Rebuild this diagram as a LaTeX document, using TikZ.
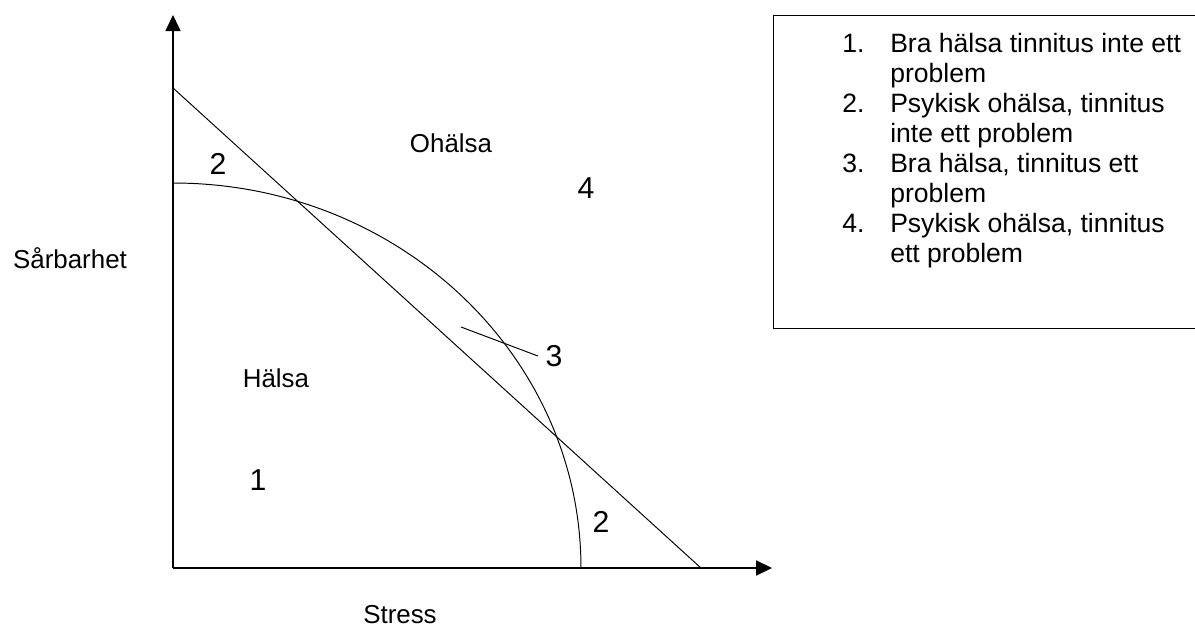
\documentclass[tikz,border=0pt]{standalone}
\usepackage{fontspec}
\setmainfont{Liberation Sans}
\usetikzlibrary{arrows.meta}
\tikzset{
  lbl/.style={font=\fontsize{12}{13.8}\selectfont},
  num/.style={font=\fontsize{14}{16}\selectfont},
  legtxt/.style={font=\fontsize{12.3}{13.9}\selectfont},
}

\begin{document}
\begin{tikzpicture}[>={Triangle[length=7.4pt,width=7pt]},line width=0.45pt]
		\useasboundingbox (-2.817,-0.977) rectangle (16.641,9.249);
		% axes
		\coordinate (O) at (0,0);
		\coordinate (ytip) at (0,9.004);
		\coordinate (xtip) at (9.754,0);
		\draw[->,line width=0.6pt] (O) -- (ytip);
		\draw[->,line width=0.6pt] (O) -- (xtip);
		\node[lbl] (sarb) at (-1.677,5.048) {Sårbarhet};
		\node[lbl] (stress) at (3.696,-0.76) {Stress};

		% line and curve
		\coordinate (ltop) at (0,7.816);
		\coordinate (lbot) at (8.597,0);
		\draw (ltop) -- (lbot);
		\draw (0,6.269) arc (90:0:6.643 and 6.269);

		\node[lbl] (ohalsa) at (4.527,6.920) {Ohälsa};
		\node[lbl] (halsa) at (1.677,3.094) {Hälsa};
		\node[num] (n1) at (1.384,1.433) {1};
		\node[num] (n2a) at (0.733,6.578) {2};
		\node[num] (n2b) at (6.969,0.749) {2};
		\node[num] (n4) at (6.725,6.188) {4};
		\node[num] (n3) at (6.204,3.452) {3};
		\coordinate (c3) at (4.690,3.924);
		\draw (c3) -- (n3.west);

		% legend
		\draw (9.770,9.004) rectangle (16.75,3.908);
		\node[legtxt,anchor=base west,inner sep=0pt] (legend) at (10.893,8.402) {%
			\begin{tabular}[t]{@{}p{22.15pt}@{}l@{}}
				1. & Bra hälsa tinnitus inte ett\\
				   & problem\\
				2. & Psykisk ohälsa, tinnitus\\
				   & inte ett problem\\
				3. & Bra hälsa, tinnitus ett\\
				   & problem\\
				4. & Psykisk ohälsa, tinnitus\\
				   & ett problem
			\end{tabular}};
\end{tikzpicture}
\end{document}
